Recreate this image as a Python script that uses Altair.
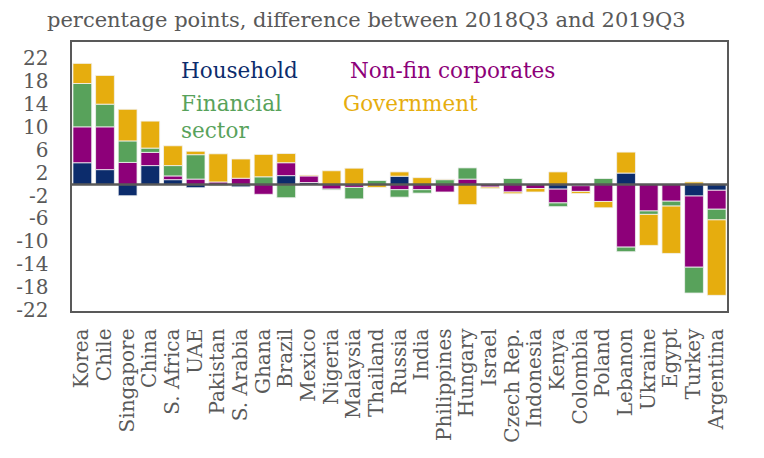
import altair as alt
import pandas as pd

countries = ["Korea", "Chile", "Singapore", "China", "S. Africa", "UAE", "Pakistan",
             "S. Arabia", "Ghana", "Brazil", "Mexico", "Nigeria", "Malaysia", "Thailand",
             "Russia", "India", "Philippines", "Hungary", "Israel", "Czech Rep.",
             "Indonesia", "Kenya", "Colombia", "Poland", "Lebanon", "Ukraine", "Egypt",
             "Turkey", "Argentina"]
household = [3.8, 2.6, -1.95, 3.3, 0.85, -0.55, 0, -0.4, 0, 1.55, 0.35, 0, 0, 0,
             1.45, 0, 0, 0, 0, 0, 0, -0.8, -0.2, 0, 2.0, 0, 0, -2.0, -1.0]
nonfin = [6.25, 7.45, 3.85, 2.3, 0.65, 0.95, 0.45, 1.1, -1.7, 2.25, 1.15, -0.8, -0.5, 0,
          -0.9, -0.9, -1.3, 0.95, -0.45, -1.3, -0.7, -2.4, -1.0, -2.95, -10.9, -4.6, -2.9,
          -12.4, -3.3]
financial = [7.55, 3.95, 3.75, 0.75, 1.8, 4.25, -0.2, 0, 1.35, -2.3, 0, -0.15, -2.0, 0.7,
             -1.3, -0.6, 0.85, 1.95, 0, 1.05, 0, -0.65, 0, 1.05, -0.8, -0.6, -0.85,
             -4.5, -1.85]
government = [3.5, 5.0, 5.5, 4.7, 3.45, 0.6, 4.9, 3.35, 3.9, 1.6, 0.15, 2.4, 2.85, -0.5,
              0.75, 1.2, 0.1, -3.5, -0.25, -0.3, -0.6, 2.2, -0.35, -1.1, 3.65, -5.4, -8.25,
              0.45, -13.15]

series = ["Household", "Non-fin corporates", "Financial sector", "Government"]
colors = ["#0c2c6c", "#8d0079", "#58a25b", "#e6ad0e"]
y_ticks = [22, 18, 14, 10, 6, 2, -2, -6, -10, -14, -18, -22]
title_text = "percentage points, difference between 2018Q3 and 2019Q3"

rows = []
for i, c in enumerate(countries):
    for k, vals in enumerate([household, nonfin, financial, government]):
        rows.append({"country": c, "series": series[k], "order": k, "value": vals[i]})
df = pd.DataFrame(rows)

FONT = "DejaVu Serif"
GRAY = "#595959"

y_scale = alt.Scale(domain=[-22.2, 25], nice=False, zero=False)


def y_axis():
    return alt.Axis(title=None, values=y_ticks, labelFont=FONT, labelFontSize=20,
                    labelColor=GRAY, ticks=False, domain=False, grid=False,
                    labelPadding=23, labelOverlap=False,
                    labelExpr="datum.value + ''")


bars = alt.Chart(df).transform_filter("datum.value != 0").mark_bar(
    stroke="#f2f2f2", strokeWidth=0.8
).encode(
    x=alt.X("country:N", sort=countries,
            scale=alt.Scale(paddingInner=0.17, paddingOuter=0.085),
            axis=alt.Axis(title=None, labelAngle=-90, labelFont=FONT, labelFontSize=20,
                          labelColor=GRAY, ticks=False, domain=False, labelPadding=16,
                          labelAlign="right", labelBaseline="middle", labelOverlap=False)),
    y=alt.Y("value:Q", stack="zero", scale=y_scale, axis=y_axis()),
    color=alt.Color("series:N", scale=alt.Scale(domain=series, range=colors), legend=None),
    order=alt.Order("order:Q", sort="ascending"),
)

zero = alt.Chart(pd.DataFrame({"value": [0]})).mark_rule(color=GRAY, strokeWidth=2.5).encode(
    y=alt.Y("value:Q", scale=y_scale, axis=y_axis())
)

leg_df = pd.DataFrame({
    "label": ["Household", "Non-fin corporates", "Financial", "sector", "Government"],
    "series": ["Household", "Non-fin corporates", "Financial sector", "Financial sector", "Government"],
    "px": [110, 279, 110, 110, 272],
    "py": [37, 37, 70, 97, 70],
})
legend = alt.Chart(leg_df).mark_text(font=FONT, fontSize=21.5, align="left",
                                     baseline="alphabetic").encode(
    x=alt.X("px:Q", scale=None),
    y=alt.Y("py:Q", scale=None),
    text="label:N",
    color=alt.Color("series:N", scale=alt.Scale(domain=series, range=colors), legend=None),
)

title = alt.Chart(pd.DataFrame({"t": [title_text], "px": [-24], "py": [-14]})).mark_text(
    font=FONT, fontSize=21, color=GRAY, align="left", baseline="alphabetic"
).encode(
    x=alt.X("px:Q", scale=None),
    y=alt.Y("py:Q", scale=None),
    text="t:N",
)

chart = alt.layer(bars, zero, legend, title).properties(
    width=657, height=271,
    autosize=alt.AutoSizeParams(type="none"),
    padding={"left": 63, "top": 33, "right": 20, "bottom": 130},
).configure_view(stroke=GRAY, strokeWidth=2).configure_axis(labelOverlap=False)

chart.save("out.html", embed_options={"renderer": "svg", "actions": False})
